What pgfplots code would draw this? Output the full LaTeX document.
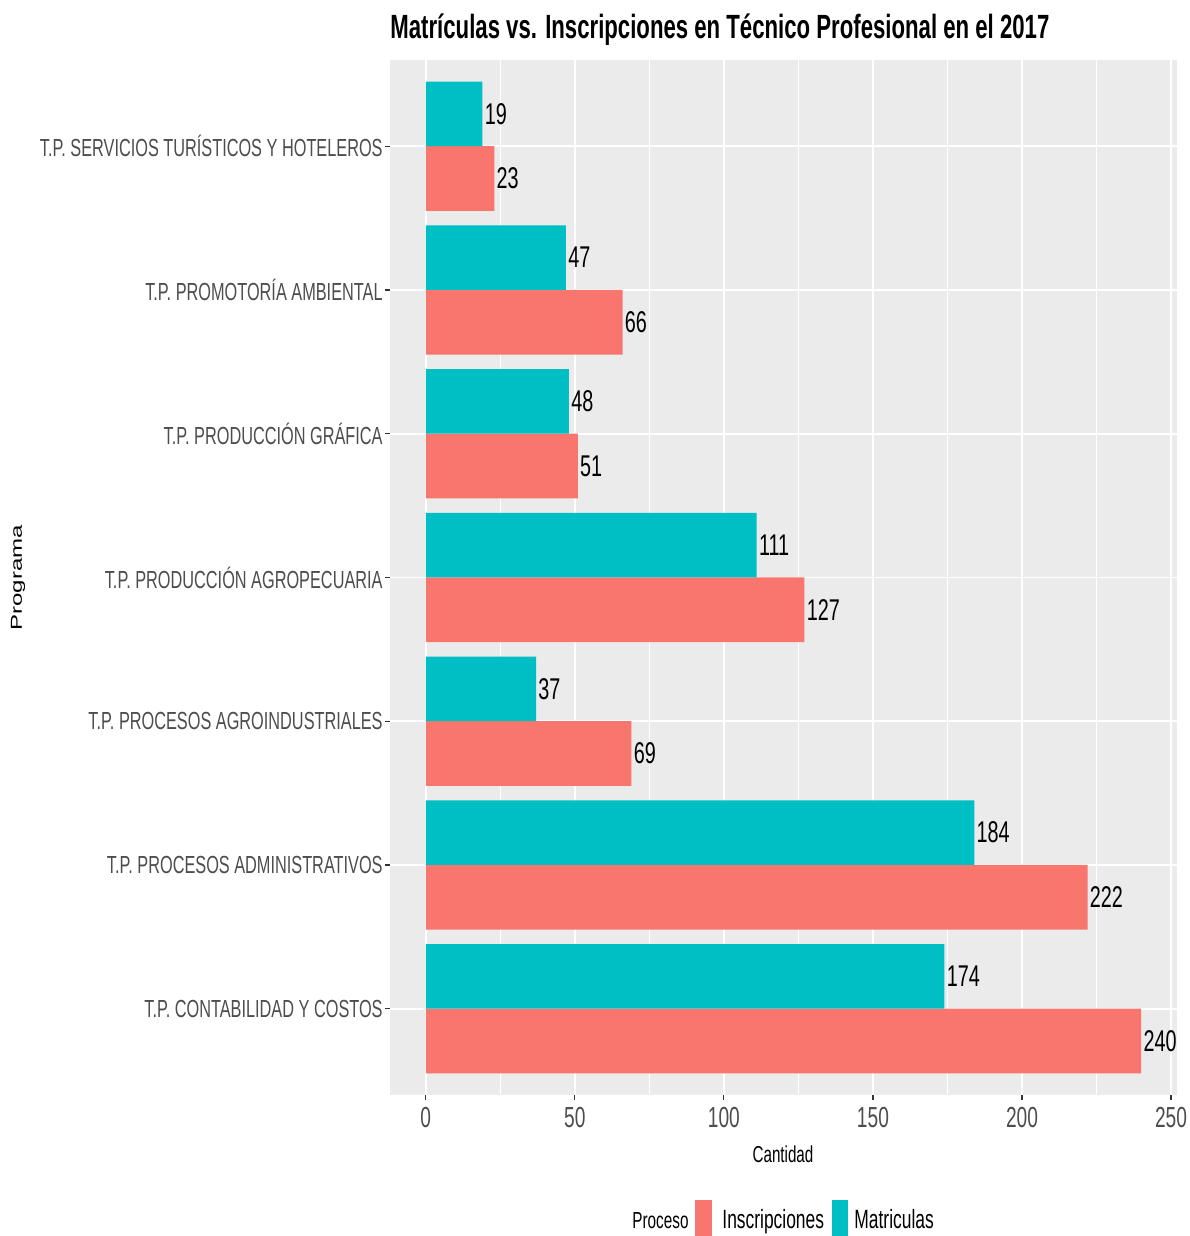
\documentclass[border=0pt]{standalone}
\usepackage{fontspec}
\setmainfont{Liberation Sans}[FakeStretch=0.66]
\newfontfamily\plainfont{Liberation Sans}
\usepackage{pgfplots}
\usepackage{pgfplotstable}
\pgfplotsset{compat=1.18}
\definecolor{tpred}{HTML}{F8766D}
\definecolor{tpteal}{HTML}{00BFC4}
\definecolor{panel}{HTML}{EBEBEB}
\definecolor{ticklab}{HTML}{4D4D4D}
\definecolor{tickc}{HTML}{333333}

\pgfplotstableread{
pos insc matr
1 240 174
2 222 184
3 69 37
4 127 111
5 51 48
6 66 47
7 23 19
}\datatable

\begin{document}
\begin{tikzpicture}
\path[use as bounding box] (0,0) rectangle (594.5pt,618pt);
\begin{axis}[
  at={(195pt,70.5pt)}, anchor=south west,
  scale only axis, width=393.5pt, height=517.5pt,
  xmin=-12, xmax=252, ymin=0.4, ymax=7.6,
  axis background/.style={fill=panel},
  axis x line*=bottom, axis y line*=left,
  axis line style={draw=none},
  xbar, bar width=0.45,
  xtick={0,50,...,250}, minor xtick={25,75,...,225},
  ytick={1,...,7},
  yticklabels={T.P. CONTABILIDAD Y COSTOS,T.P. PROCESOS ADMINISTRATIVOS,T.P. PROCESOS AGROINDUSTRIALES,T.P. PRODUCCIÓN AGROPECUARIA,T.P. PRODUCCIÓN GRÁFICA,T.P. PROMOTORÍA AMBIENTAL,T.P. SERVICIOS TURÍSTICOS Y HOTELEROS},
  grid=both,
  major grid style={white, line width=0.9pt},
  minor grid style={white, line width=0.4pt},
  tick align=outside, major tick length=2.5pt, minor tick length=0pt,
  tick style={tickc, line width=0.6pt},
  /pgf/number format/assume math mode=true,
  xticklabel style={font=\fontsize{14.5}{16}\selectfont, text=ticklab, inner sep=0pt, yshift=-3.5pt},
  yticklabel style={font=\fontsize{12.35}{14}\selectfont, text=ticklab, inner sep=0pt, anchor=east, xshift=-1pt},
  nodes near coords,
  every node near coord/.style={anchor=west, inner sep=1pt, font=\fontsize{15}{17}\selectfont, text=black},
  clip=false,
]
\addplot[fill=tpred, draw=none, bar shift=-0.225,
  every node near coord/.append style={yshift=-16.2pt}] table[x=insc, y=pos] {\datatable};
\addplot[fill=tpteal, draw=none, bar shift=0.225,
  every node near coord/.append style={yshift=16.2pt}] table[x=matr, y=pos] {\datatable};
\end{axis}
\node[anchor=west, inner sep=0pt, font=\bfseries\fontsize{16.8}{19}\selectfont] at (195pt,603pt) {Matrículas vs. Inscripciones en Técnico Profesional en el 2017};
\node[font=\fontsize{11.5}{13}\selectfont, text=black] at (391.5pt,41pt) {Cantidad};
\node[rotate=90, inner sep=0pt] at (9pt,329pt) {\scalebox{1}[0.66]{\plainfont\fontsize{12}{14}\selectfont Programa}};
\node[anchor=base west, inner sep=0pt, font=\fontsize{11.6}{13}\selectfont] at (316pt,4pt) {Proceso};
\fill[tpred] (347.5pt,0pt) rectangle (356pt,18pt);
\node[anchor=base west, inner sep=0pt, font=\fontsize{13.2}{15}\selectfont] at (361pt,4pt) {Inscripciones};
\fill[tpteal] (416pt,0pt) rectangle (424pt,18pt);
\node[anchor=base west, inner sep=0pt, font=\fontsize{13.2}{15}\selectfont] at (427pt,4pt) {Matriculas};
\end{tikzpicture}
\end{document}
